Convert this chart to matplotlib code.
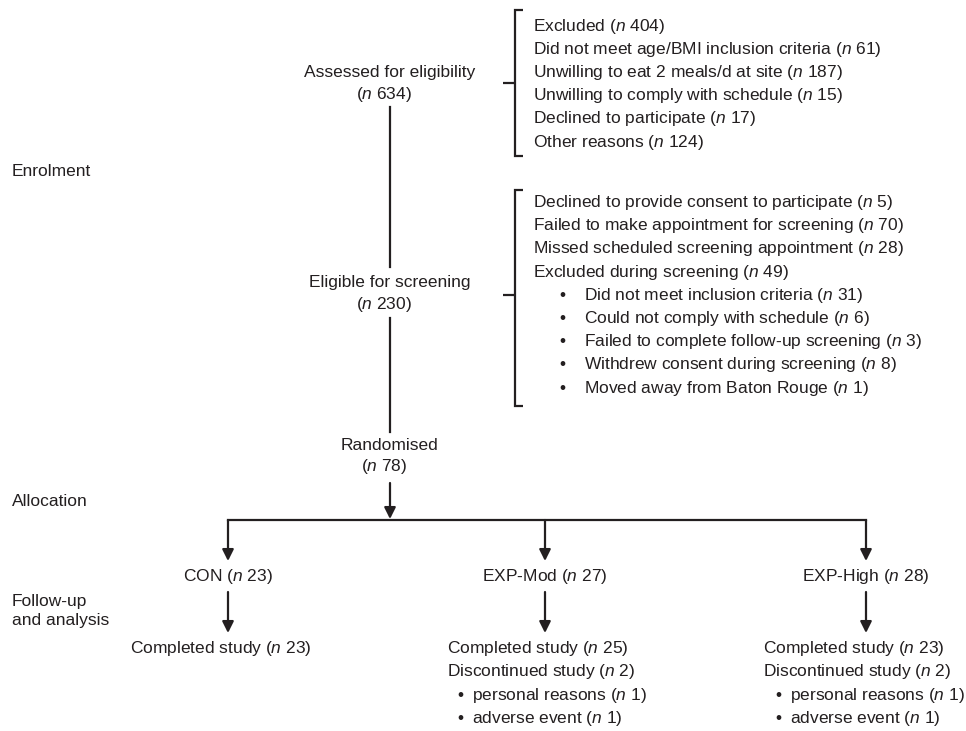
import matplotlib.pyplot as plt
from matplotlib.path import Path
from matplotlib.patches import PathPatch

plt.rcParams['font.family'] = 'Liberation Sans'
plt.rcParams['mathtext.fontset'] = 'custom'
plt.rcParams['mathtext.rm'] = 'Liberation Sans'
plt.rcParams['mathtext.it'] = 'Liberation Sans:italic'

# datos del diagrama de flujo
phases = ['Enrolment', 'Allocation', 'Follow-up\nand analysis']
stage_labels = ['Assessed for eligibility', 'Eligible for screening', 'Randomised']
stage_counts = [634, 230, 78]

excl1_labels = ['Excluded', 'Did not meet age/BMI inclusion criteria',
                'Unwilling to eat 2 meals/d at site', 'Unwilling to comply with schedule',
                'Declined to participate', 'Other reasons']
excl1_counts = [404, 61, 187, 15, 17, 124]

excl2_labels = ['Declined to provide consent to participate',
                'Failed to make appointment for screening',
                'Missed scheduled screening appointment', 'Excluded during screening']
excl2_counts = [5, 70, 28, 49]
excl2_sub_labels = ['Did not meet inclusion criteria', 'Could not comply with schedule',
                    'Failed to complete follow-up screening',
                    'Withdrew consent during screening', 'Moved away from Baton Rouge']
excl2_sub_counts = [31, 6, 3, 8, 1]

groups = ['CON', 'EXP-Mod', 'EXP-High']
group_counts = [23, 27, 28]
completed = [23, 25, 23]
discontinued = [None, 2, 2]
disc_reasons = ['personal reasons', 'adverse event']
disc_counts = [None, [1, 1], [1, 1]]

INK = '#231f20'
FS = 12.5
LW = 1.6
STEP = 23.2


def lab(text, n):
    return f'{text} ($\\mathit{{n}}$ {n})'


def nonly(n):
    return f'($\\mathit{{n}}$ {n})'


def arrow(ax, x, y0, y1):
    ax.annotate('', xy=(x, y1), xytext=(x, y0),
                arrowprops=dict(arrowstyle='-|>', color=INK, lw=LW,
                                mutation_scale=17, shrinkA=0, shrinkB=0))


def bracket(ax, x, top, bottom, mid):
    verts = [(x + 8, top), (x, top), (x, bottom), (x + 8, bottom),
             (x, mid), (x - 12, mid)]
    codes = [Path.MOVETO, Path.LINETO, Path.LINETO, Path.LINETO,
             Path.MOVETO, Path.LINETO]
    ax.add_patch(PathPatch(Path(verts, codes), fill=False, color=INK, lw=LW))


fig = plt.figure(figsize=(9.66, 7.31), dpi=100)
ax = fig.add_axes([0, 0, 1, 1])
ax.set_xlim(0, 966)
ax.set_ylim(731, 0)
ax.axis('off')

# etiquetas de fase a la izquierda
for txt, y in zip(phases, [172, 501, 611]):
    ax.text(12, y, txt, fontsize=FS, color=INK, ha='left', va='center', linespacing=1.3)

# columna central
cx = 390
for txt, n, y in zip(stage_labels, stage_counts, [72, 282, 445]):
    ax.text(cx, y, txt, fontsize=FS, color=INK, ha='center', va='center')
    ax.text(cx - 6, y + 22, nonly(n), fontsize=FS, color=INK, ha='center', va='center')

ax.plot([cx, cx], [107, 267], color=INK, lw=LW)
ax.plot([cx, cx], [318, 432], color=INK, lw=LW)
arrow(ax, cx, 483, 519)

# primer bloque de exclusion
bracket(ax, 515, 10, 156, 83)
for i, (txt, n) in enumerate(zip(excl1_labels, excl1_counts)):
    ax.text(533, 26 + STEP * i, lab(txt, n), fontsize=FS, color=INK, va='center')

# segundo bloque de exclusion
bracket(ax, 515, 190, 406, 295)
for i, (txt, n) in enumerate(zip(excl2_labels, excl2_counts)):
    ax.text(533, 202.5 + STEP * i, lab(txt, n), fontsize=FS, color=INK, va='center')
for i, (txt, n) in enumerate(zip(excl2_sub_labels, excl2_sub_counts)):
    y = 202.5 + STEP * (i + 4)
    ax.text(562, y, '\u2022', fontsize=FS, color=INK, va='center', ha='center')
    ax.text(584, y, lab(txt, n), fontsize=FS, color=INK, va='center')

# asignacion a grupos
gx = [228, 545, 866]
ax.plot([gx[0], gx[-1]], [520, 520], color=INK, lw=LW)
for x in gx:
    arrow(ax, x, 520, 561)
    arrow(ax, x, 592, 633)

for x, g, n in zip(gx, groups, group_counts):
    ax.text(x, 577, lab(g, n), fontsize=FS, color=INK, ha='center', va='center')

# seguimiento
ax.text(221, 648, lab('Completed study', completed[0]), fontsize=FS, color=INK,
        ha='center', va='center')
for x0, bx, c, d, dc in zip([447, 763], [460, 778], completed[1:], discontinued[1:], disc_counts[1:]):
    ax.text(x0, 648, lab('Completed study', c), fontsize=FS, color=INK, va='center')
    ax.text(x0, 648 + STEP, lab('Discontinued study', d), fontsize=FS, color=INK, va='center')
    for j, (r, k) in enumerate(zip(disc_reasons, dc)):
        y = 648 + STEP * (j + 2) + 1
        ax.text(bx, y, '\u2022', fontsize=FS, color=INK, va='center', ha='center')
        ax.text(bx + 12, y, lab(r, k), fontsize=FS, color=INK, va='center')

fig.savefig('out.png', dpi=100, facecolor='white')
